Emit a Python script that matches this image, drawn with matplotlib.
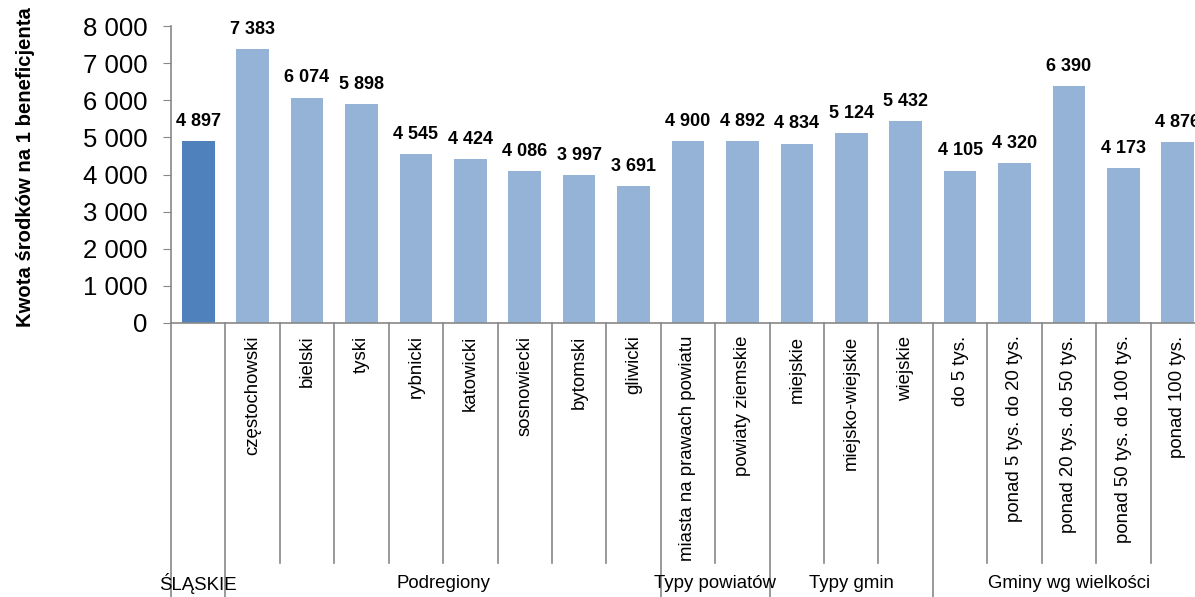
import matplotlib
matplotlib.use("Agg")
import matplotlib.pyplot as plt
from matplotlib.ticker import FuncFormatter, MultipleLocator
from matplotlib.lines import Line2D

plt.rcParams['font.family'] = ['Liberation Sans', 'DejaVu Sans']

categories = ["", "częstochowski", "bielski", "tyski", "rybnicki", "katowicki",
              "sosnowiecki", "bytomski", "gliwicki", "miasta na prawach powiatu",
              "powiaty ziemskie", "miejskie", "miejsko-wiejskie", "wiejskie",
              "do 5 tys.", "ponad 5 tys. do 20 tys.", "ponad 20 tys. do 50 tys.",
              "ponad 50 tys. do 100 tys.", "ponad 100 tys."]
values = [4897, 7383, 6074, 5898, 4545, 4424, 4086, 3997, 3691, 4900,
          4892, 4834, 5124, 5432, 4105, 4320, 6390, 4173, 4876]
groups = ["ŚLĄSKIE", "Podregiony", "Typy powiatów", "Typy gmin", "Gminy wg wielkości"]
group_sizes = [1, 8, 2, 3, 5]

def fmt(v):
    return f"{int(v):,}".replace(",", " ")

W, H = 1195, 597
fig = plt.figure(figsize=(W / 100, H / 100), dpi=100)
ax_left, ax_right, ax_top, ax_bot = 171, 1205, 26, 323
ax = fig.add_axes([ax_left / W, 1 - ax_bot / H, (ax_right - ax_left) / W, (ax_bot - ax_top) / H])

colors = ["#4F81BD"] + ["#95B3D7"] * (len(values) - 1)
x = list(range(len(values)))
ax.bar(x, values, width=0.6, color=colors, zorder=2)

for xi, v in zip(x, values):
    ax.annotate(fmt(v), (xi, v), xytext=(0, 8), textcoords="offset points",
                ha="center", va="bottom", fontsize=13, fontweight="bold", color="black")

ax.set_xlim(-0.5, len(values) - 0.5)
ax.set_ylim(0, 8000)
ax.yaxis.set_major_locator(MultipleLocator(1000))
ax.yaxis.set_major_formatter(FuncFormatter(lambda v, p: fmt(v)))
ax.tick_params(axis="y", labelsize=18.5, length=6, color="#888888", pad=11, direction="out")

ax.set_xticks(x)
ax.set_xticklabels(categories, rotation=90, fontsize=13.4, va="top", ha="center")
ax.tick_params(axis="x", length=0, pad=9)

for s in ["top", "right"]:
    ax.spines[s].set_visible(False)
for s in ["left", "bottom"]:
    ax.spines[s].set_color("#888888")
    ax.spines[s].set_linewidth(1.2)

ax.set_ylabel("Kwota środków na 1 beneficjenta", fontsize=14.6, fontweight="bold")
ax.yaxis.set_label_coords((35 - ax_left) / (ax_right - ax_left), (ax_bot - 167) / (ax_bot - ax_top))

trans = ax.get_xaxis_transform()
hpx = ax_bot - ax_top
y_short = (ax_bot - 563) / hpx
y_long = (ax_bot - 600) / hpx

bounds = [-0.5]
for g in group_sizes:
    bounds.append(bounds[-1] + g)

for b in [i - 0.5 for i in range(len(values) + 1)]:
    y_end = y_long if b in bounds else y_short
    ax.add_line(Line2D([b, b], [0, y_end], transform=trans, color="#888888",
                       linewidth=1.2, clip_on=False))

y_grp = (ax_bot - 584) / hpx
for g, a, b in zip(groups, bounds[:-1], bounds[1:]):
    ax.text((a + b) / 2, y_grp, g, transform=trans, ha="center", va="center", fontsize=13.4)

fig.savefig("out.png", dpi=100)
